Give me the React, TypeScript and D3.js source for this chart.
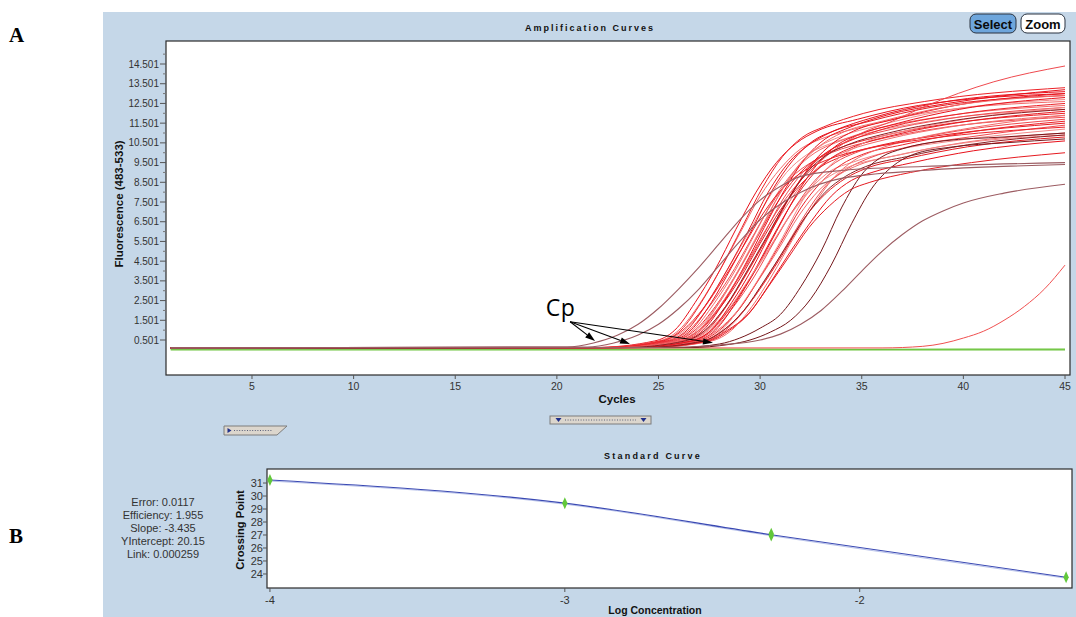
import React, { useEffect } from 'react';
import * as d3 from 'd3';

type Pt = [number, number];

// ---------- Amplification curves data (cycle, fluorescence) ----------
const cycleTicks = [5, 10, 15, 20, 25, 30, 35, 40, 45];
const fluorTicks = [0.501, 1.501, 2.501, 3.501, 4.501, 5.501, 6.501, 7.501, 8.501, 9.501, 10.501, 11.501, 12.501, 13.501, 14.501];
const fluorTickLabels = ['0.501', '1.501', '2.501', '3.501', '4.501', '5.501', '6.501', '7.501', '8.501', '9.501', '10.501', '11.501', '12.501', '13.501', '14.501'];

const redCurves: Pt[][] = [
  [[1,0.1],[21.8,0.12],[24.8,0.45],[25.8,1.0],[26.8,2.4],[27.8,4.1],[28.8,6.1],[29.8,8.0],[30.8,9.5],[31.8,10.5],[32.8,11.1],[34.8,11.7],[37.8,12.4],[45,13.0]],
  [[1,0.1],[22,0.12],[25,0.45],[26,1.0],[27,2.3],[28,4.0],[29,5.9],[30,7.8],[31,9.2],[32,10.2],[33,10.7],[35,11.3],[38,12.0],[45,12.6]],
  [[1,0.1],[22.1,0.12],[25.1,0.45],[26.1,1.0],[27.1,2.4],[28.1,4.2],[29.1,6.2],[30.1,8.2],[31.1,9.8],[32.1,10.8],[33.1,11.3],[35.1,12.0],[38.1,12.6],[45,13.3]],
  [[1,0.1],[22.3,0.12],[25.3,0.45],[26.3,1.0],[27.3,2.2],[28.3,3.9],[29.3,5.7],[30.3,7.5],[31.3,9.0],[32.3,9.9],[33.3,10.4],[35.3,11.0],[38.3,11.6],[45,12.2]],
  [[1,0.1],[22.4,0.12],[25.4,0.45],[26.4,1.0],[27.4,2.4],[28.4,4.1],[29.4,6.0],[30.4,8.0],[31.4,9.5],[32.4,10.4],[33.4,11.0],[35.4,11.6],[38.4,12.3],[45,12.9]],
  [[1,0.1],[22.5,0.12],[25.5,0.45],[26.5,1.0],[27.5,2.2],[28.5,3.7],[29.5,5.5],[30.5,7.3],[31.5,8.7],[32.5,9.5],[33.5,10.0],[35.5,10.6],[38.5,11.2],[45,11.8]],
  [[1,0.1],[22.6,0.12],[25.6,0.45],[26.6,1.0],[27.6,2.4],[28.6,4.2],[29.6,6.1],[30.6,8.1],[31.6,9.6],[32.6,10.6],[33.6,11.1],[35.6,11.8],[38.6,12.5],[45,13.1]],
  [[1,0.1],[22.7,0.12],[25.7,0.45],[26.7,1.0],[27.7,2.3],[28.7,3.9],[29.7,5.8],[30.7,7.7],[31.7,9.1],[32.7,10.0],[33.7,10.5],[35.7,11.2],[38.7,11.8],[45,12.4]],
  [[1,0.1],[22.8,0.12],[25.8,0.45],[26.8,1.0],[27.8,2.2],[28.8,3.8],[29.8,5.6],[30.8,7.4],[31.8,8.8],[32.8,9.7],[33.8,10.2],[35.8,10.8],[38.8,11.4],[45,12.0]],
  [[1,0.1],[22.9,0.12],[25.9,0.45],[26.9,1.0],[27.9,2.3],[28.9,4.0],[29.9,5.9],[30.9,7.8],[31.9,9.3],[32.9,10.3],[33.9,10.8],[35.9,11.4],[38.9,12.1],[45,12.7]],
  [[1,0.1],[23,0.12],[26,0.45],[27,1.0],[28,2.1],[29,3.6],[30,5.4],[31,7.1],[32,8.4],[33,9.3],[34,9.8],[36,10.4],[39,10.9],[45,11.5]],
  [[1,0.1],[23.1,0.12],[26.1,0.45],[27.1,1.0],[28.1,2.3],[29.1,3.9],[30.1,5.7],[31.1,7.6],[32.1,9.0],[33.1,9.9],[34.1,10.5],[36.1,11.1],[39.1,11.7],[45,12.3]],
  [[1,0.1],[23.2,0.12],[26.2,0.45],[27.2,1.0],[28.2,2.4],[29.2,4.2],[30.2,6.2],[31.2,8.1],[32.2,9.7],[33.2,10.7],[34.2,11.2],[36.2,11.9],[39.2,12.5],[45,13.2]],
  [[1,0.1],[23.3,0.12],[26.3,0.45],[27.3,1.0],[28.3,2.2],[29.3,3.8],[30.3,5.6],[31.3,7.3],[32.3,8.7],[33.3,9.6],[34.3,10.1],[36.3,10.7],[39.3,11.3],[45,11.9]],
  [[1,0.1],[23.4,0.12],[26.4,0.45],[27.4,1.0],[28.4,2.3],[29.4,4.0],[30.4,5.8],[31.4,7.7],[32.4,9.2],[33.4,10.1],[34.4,10.6],[36.4,11.3],[39.4,11.9],[45,12.5]],
  [[1,0.1],[23.5,0.12],[26.5,0.45],[27.5,1.0],[28.5,2.1],[29.5,3.6],[30.5,5.2],[31.5,6.9],[32.5,8.2],[33.5,9.1],[34.5,9.5],[36.5,10.1],[39.5,10.6],[45,11.2]],
  [[1,0.1],[23.6,0.12],[26.6,0.45],[27.6,1.0],[28.6,2.2],[29.6,3.8],[30.6,5.7],[31.6,7.5],[32.6,8.9],[33.6,9.8],[34.6,10.3],[36.6,10.9],[39.6,11.5],[45,12.1]],
  [[1,0.1],[23.7,0.12],[26.7,0.45],[27.7,1.0],[28.7,2.2],[29.7,3.7],[30.7,5.5],[31.7,7.2],[32.7,8.6],[33.7,9.5],[34.7,10.0],[36.7,10.5],[39.7,11.1],[45,11.7]],
  [[1,0.1],[23.8,0.12],[26.8,0.45],[27.8,1.0],[28.8,2.4],[29.8,4.1],[30.8,6.0],[31.8,7.9],[32.8,9.4],[33.8,10.4],[34.8,10.9],[36.8,11.5],[39.8,12.2],[45,12.8]],
  [[1,0.1],[23.9,0.12],[26.9,0.45],[27.9,1.0],[28.9,2.0],[29.9,3.5],[30.9,5.1],[31.9,6.8],[32.9,8.1],[33.9,8.9],[34.9,9.4],[36.9,9.9],[39.9,10.5],[45,11.0]],
  [[1,0.1],[24,0.12],[27,0.45],[28,1.0],[29,2.1],[30,3.7],[31,5.4],[32,7.2],[33,8.5],[34,9.4],[35,9.9],[37,10.4],[40,11.0],[45,11.6]],
  [[1,0.1],[24.1,0.12],[27.1,0.45],[28.1,1.0],[29.1,2.3],[30.1,3.9],[31.1,5.7],[32.1,7.6],[33.1,9.0],[34.1,9.9],[35.1,10.5],[37.1,11.1],[40.1,11.7],[45,12.3]],
  [[1,0.1],[24.2,0.12],[27.2,0.45],[28.2,1.0],[29.2,2.0],[30.2,3.4],[31.2,5.0],[32.2,6.7],[33.2,7.9],[34.2,8.7],[35.2,9.2],[37.2,9.7],[40.2,10.3],[45,10.8]],
  [[1,0.1],[24.3,0.12],[27.3,0.45],[28.3,1.0],[29.3,2.1],[30.3,3.6],[31.3,5.3],[32.3,7.0],[33.3,8.4],[34.3,9.2],[35.3,9.7],[37.3,10.3],[40.3,10.8],[45,11.4]],
  [[1,0.1],[24.5,0.12],[27.5,0.45],[28.5,1.0],[29.5,1.9],[30.5,3.4],[31.5,5.0],[32.5,6.5],[33.5,7.8],[34.5,8.6],[35.5,9.0],[37.5,9.5],[40.5,10.1],[45,10.6]],
  [[1,0.1],[24.6,0.12],[27.6,0.45],[28.6,1.0],[29.6,2.2],[30.6,3.8],[31.6,5.6],[32.6,7.3],[33.6,8.7],[34.6,9.6],[35.6,10.1],[37.6,10.7],[40.6,11.3],[45,11.9]],
  [[1,0.1],[22.2,0.12],[25.2,0.45],[26.2,1.0],[27.2,2.1],[28.2,3.6],[29.2,5.3],[30.2,7.0],[31.2,8.3],[32.2,9.1],[33.2,9.6],[35.2,10.2],[38.2,10.7],[45,11.3]],
  [[1,0.1],[23.4,0.12],[26.4,0.45],[27.4,1.0],[28.4,2.0],[29.4,3.5],[30.4,5.1],[31.4,6.7],[32.4,8.0],[33.4,8.8],[34.4,9.3],[36.4,9.8],[39.4,10.4],[45,10.9]],
  [[1,0.1],[24.4,0.12],[27.4,0.45],[28.4,1.0],[29.4,1.8],[30.4,3.2],[31.4,4.7],[32.4,6.2],[33.4,7.3],[34.4,8.1],[35.4,8.5],[37.4,9.0],[40.4,9.5],[45,10.0]],
  [[1,0.1],[23,0.12],[26,0.45],[27,1.0],[28,2.2],[29,3.8],[30,5.6],[31,7.3],[32,8.6],[33,9.6],[34,10.4],[35,11.0],[36.5,11.6],[38,12.3],[41.5,13.6],[45,14.4]],
  [[1,0.1],[23.6,0.12],[26.6,0.45],[27.6,1.0],[28.6,2.4],[29.6,4.1],[30.6,6.1],[31.6,8.0],[32.6,9.5],[33.6,10.5],[34.6,11.1],[36.6,11.7],[39.6,12.4],[45,13.0]],
  [[1,0.1],[23,0.12],[26,0.45],[27,1.0],[28,2.4],[29,4.1],[30,6.0],[31,8.0],[32,9.5],[33,10.4],[34,11.0],[36,11.6],[39,12.3],[45,12.9]],
];

const darkBundleCurves: Pt[][] = [
  [[1,0.1],[24.2,0.12],[27.2,0.45],[28.2,1.0],[29.2,2.0],[30.2,3.5],[31.2,5.1],[32.2,6.7],[33.2,8.0],[34.2,8.8],[35.2,9.3],[37.2,9.8],[40.2,10.4],[45,10.9]],
  [[1,0.1],[23.3,0.12],[26.3,0.45],[27.3,1.0],[28.3,2.2],[29.3,3.9],[30.3,5.7],[31.3,7.5],[32.3,9.0],[33.3,9.9],[34.3,10.4],[36.3,11.0],[39.3,11.6],[45,12.2]],
];

const steepDarkCurves: Pt[][] = [
  [[1,0.1],[26,0.12],[28,0.3],[29,0.6],[30,1.1],[31,1.8],[32,3.2],[33,5.0],[34,7.2],[35,8.9],[36,9.8],[37,10.2],[39,10.6],[42,10.8],[45,11.0]],
  [[1,0.1],[26.5,0.12],[28.5,0.28],[29.5,0.5],[30.5,0.9],[31.5,1.5],[32.5,2.6],[33.5,4.3],[34.5,6.4],[35.5,8.2],[36.5,9.3],[37.5,9.9],[39.5,10.3],[42,10.5],[45,10.7]],
];

const brownCurves: Pt[][] = [
  [[1,0.1],[20.5,0.15],[21.8,0.35],[23,0.75],[24,1.3],[25,2.1],[26,3.1],[27,4.2],[28,5.4],[29,6.6],[30,7.6],[31,8.3],[32,8.8],[34,9.1],[38,9.3],[45,9.5]],
  [[1,0.1],[21.5,0.15],[22.8,0.35],[24,0.75],[25,1.3],[26,2.1],[27,3.1],[28,4.3],[29,5.5],[30,6.6],[31,7.4],[32,8.0],[34,8.7],[38,9.1],[45,9.4]],
  [[1,0.1],[25,0.12],[28,0.25],[30,0.5],[31,0.8],[32,1.3],[33,2.0],[34,2.95],[35,4.0],[36,5.0],[37,5.85],[38,6.55],[39,7.05],[40,7.45],[42,7.95],[45,8.4]],
];

const lateRedCurve: Pt[] = [[1,0.1],[36,0.1],[38,0.18],[39,0.33],[40,0.6],[41,0.95],[42,1.5],[43,2.2],[44,3.1],[45,4.3]];

const greenCurves: Pt[][] = [
  [[1,0.0],[10,0.0],[20,0.0],[30,0.0],[40,0.0],[45,0.0]],
  [[1,0.04],[12,0.05],[25,0.04],[35,0.03],[45,0.04]],
];

const cpOrigin: Pt = [20.65, 1.43];
const cpTips: Pt[] = [[21.88, 0.45], [23.6, 0.30], [27.68, 0.36]];
const cpLabelAt: Pt = [19.45, 1.72];

// ---------- Standard curve data ----------
const logConc = [-4, -3, -2.3, -2.3, -1.3];
const crossingPoints = [31.23, 29.45, 26.95, 27.1, 23.75];
const fitLogConc = [-4, -3, -2.3, -1.3];
const fitCrossing = [31.23, 29.45, 27.02, 23.75];
const logTicks = [-4, -3, -2];
const cpTicks = [24, 25, 26, 27, 28, 29, 30, 31];
const statsLines = ['Error: 0.0117', 'Efficiency: 1.955', 'Slope: -3.435', 'YIntercept: 20.15', 'Link: 0.000259'];

// ---------- styles ----------
const redPalette = ['#e8111b', '#f26a6a', '#ec2228', '#f48888', '#e51a20', '#ef4a4f'];
const SANS = '"Liberation Sans", Arial, sans-serif';

export default function App() {
  useEffect(() => {
    document.body.style.margin = '0';
  }, []);

  const x = d3.scaleLinear().domain([0.769, 45.246]).range([166, 1070]);
  const y = d3.scaleLinear().domain([-1.274, 15.668]).range([375, 41]);
  const line = d3.line<Pt>().x(d => x(d[0])).y(d => y(d[1])).curve(d3.curveMonotoneX);

  const bx = d3.scaleLinear().domain([-4.01, -1.28]).range([267, 1072]);
  const by = d3.scaleLinear().domain([22.92, 32.08]).range([588, 469]);
  const fitPts: Pt[] = fitLogConc.map((c, i) => [c, fitCrossing[i]]);
  const fitLine = d3.line<Pt>().x(d => bx(d[0])).y(d => by(d[1])).curve(d3.curveMonotoneX);
  const diamond = d3.symbol().type(d3.symbolDiamond).size(34)() || '';

  const ox = x(cpOrigin[0]);
  const oy = y(cpOrigin[1]);
  const arrows = cpTips.map(t => {
    const tx = x(t[0]);
    const ty = y(t[1]);
    const ang = Math.atan2(ty - oy, tx - ox);
    const L = 10, Wd = 3.2;
    const bxp = tx - L * Math.cos(ang);
    const byp = ty - L * Math.sin(ang);
    const p1 = [bxp + Wd * Math.sin(ang), byp - Wd * Math.cos(ang)];
    const p2 = [bxp - Wd * Math.sin(ang), byp + Wd * Math.cos(ang)];
    return { tx, ty, bxp, byp, head: `${tx},${ty} ${p1[0]},${p1[1]} ${p2[0]},${p2[1]}` };
  });

  return (
    <svg width={1076} height={617} style={{ position: 'absolute', left: 0, top: 0, display: 'block' }} fontFamily={SANS}>
      <rect x={0} y={0} width={1076} height={617} fill="#ffffff" />
      <rect x={103} y={12} width={973} height={605} fill="#c5d7e8" />

      <text x={9} y={42} fontFamily='"Liberation Serif", "Times New Roman", serif' fontWeight="bold" fontSize={21}>A</text>
      <text x={9} y={543} fontFamily='"Liberation Serif", "Times New Roman", serif' fontWeight="bold" fontSize={21}>B</text>

      {/* ---- Amplification curves ---- */}
      <text x={590} y={30.5} textAnchor="middle" fontWeight="bold" fontSize={9} letterSpacing={2} fill="#111">Amplification Curves</text>

      <rect x={970} y={14} width={46} height={19} rx={6} fill="#6ea6dc" stroke="#2a3340" strokeWidth={1} />
      <text x={993} y={28.5} textAnchor="middle" fontWeight="bold" fontSize={13} fill="#0a0a0a">Select</text>
      <rect x={1021} y={14} width={44} height={19} rx={6} fill="#ffffff" stroke="#2a3340" strokeWidth={1} />
      <text x={1043} y={28.5} textAnchor="middle" fontWeight="bold" fontSize={13} fill="#0a0a0a">Zoom</text>

      <defs>
        <clipPath id="plotClip">
          <rect x={166} y={41} width={904} height={334} />
        </clipPath>
      </defs>
      <rect x={166} y={41} width={904} height={334} fill="#ffffff" />

      <g clipPath="url(#plotClip)" fill="none">
        {greenCurves.map((c, i) => (
          <path key={'g' + i} d={line(c) || ''} stroke="#6cc43c" strokeWidth={1.2} />
        ))}
        {redCurves.map((c, i) => (
          <path key={'r' + i} d={line(c) || ''} stroke={redPalette[i % redPalette.length]} strokeWidth={1} />
        ))}
        <path d={line(lateRedCurve) || ''} stroke="#f05050" strokeWidth={1} />
        {darkBundleCurves.map((c, i) => (
          <path key={'db' + i} d={line(c) || ''} stroke="#8c1e22" strokeWidth={1} />
        ))}
        {steepDarkCurves.map((c, i) => (
          <path key={'sd' + i} d={line(c) || ''} stroke="#74161a" strokeWidth={1} />
        ))}
        {brownCurves.map((c, i) => (
          <path key={'b' + i} d={line(c) || ''} stroke="#9c5c62" strokeWidth={1.1} />
        ))}
      </g>

      {/* Cp annotation */}
      <text x={x(cpLabelAt[0])} y={y(cpLabelAt[1])} fontFamily='"Open Sans", "Noto Sans", sans-serif' fontSize={23} letterSpacing={0.5}>Cp</text>
      {arrows.map((a, i) => (
        <g key={'a' + i}>
          <line x1={ox} y1={oy} x2={a.bxp} y2={a.byp} stroke="#000" strokeWidth={1.1} />
          <polygon points={a.head} fill="#000" />
        </g>
      ))}

      <rect x={166} y={41} width={904} height={334} fill="none" stroke="#2b2b2b" strokeWidth={1.2} />

      {/* y axis */}
      {fluorTicks.map((t, i) => (
        <g key={'yt' + i}>
          <line x1={160} x2={166} y1={y(t)} y2={y(t)} stroke="#555" />
          <text x={159} y={y(t) + 3.5} textAnchor="end" fontSize={10} fill="#333">{fluorTickLabels[i]}</text>
        </g>
      ))}
      {fluorTicks.map((t, i) => (
        <line key={'ym' + i} x1={163} x2={166} y1={y(t + 0.5)} y2={y(t + 0.5)} stroke="#777" />
      ))}
      <text transform={`translate(122.5,204) rotate(-90)`} textAnchor="middle" fontWeight="bold" fontSize={11.5} fill="#111">Fluorescence (483-533)</text>

      {/* x axis */}
      {cycleTicks.map(t => (
        <g key={'xt' + t}>
          <line x1={x(t)} x2={x(t)} y1={375} y2={379} stroke="#555" />
          <text x={x(t)} y={390} textAnchor="middle" fontSize={10.5} fill="#333">{t}</text>
        </g>
      ))}
      <text x={617} y={403} textAnchor="middle" fontWeight="bold" fontSize={11.5} fill="#111">Cycles</text>

      {/* sliders */}
      <polygon points="224,426 287,426 277,435 224,435" fill="#dcd6cd" stroke="#7d7d7d" strokeWidth={1} />
      <polygon points="227.5,428 231.5,430.5 227.5,433" fill="#1f2f8a" />
      <line x1={234} x2={273} y1={430.5} y2={430.5} stroke="#5a607a" strokeWidth={1} strokeDasharray="1,1.6" />
      <rect x={550} y={416} width={101} height={8} fill="#dcd6cd" stroke="#7d7d7d" strokeWidth={1} />
      <polygon points="555.5,418 561.5,418 558.5,422" fill="#1f2f8a" />
      <polygon points="640.5,418 646.5,418 643.5,422" fill="#1f2f8a" />
      <line x1={565} x2={636} y1={420} y2={420} stroke="#5a607a" strokeWidth={1} strokeDasharray="1,1.6" />

      {/* ---- Standard curve ---- */}
      <text x={653} y={458.5} textAnchor="middle" fontWeight="bold" fontSize={9} letterSpacing={2.2} fill="#111">Standard Curve</text>
      <rect x={267} y={469} width={805} height={119} fill="#ffffff" stroke="#2b2b2b" strokeWidth={1.2} />
      <path d={fitLine(fitPts) || ''} fill="none" stroke="#b8c2ea" strokeWidth={1} transform="translate(0,1)" />
      <path d={fitLine(fitPts) || ''} fill="none" stroke="#3a49b3" strokeWidth={1.1} />
      {logConc.map((c, i) => (
        <path key={'pt' + i} d={diamond} transform={`translate(${bx(c)},${by(crossingPoints[i])}) scale(0.85,1.1)`} fill="#62c83a" />
      ))}

      {cpTicks.map(t => (
        <g key={'byt' + t}>
          <line x1={263} x2={267} y1={by(t)} y2={by(t)} stroke="#555" />
          <text x={263} y={by(t) + 4} textAnchor="end" fontSize={11} fill="#333">{t}</text>
        </g>
      ))}
      <text transform={`translate(244,530) rotate(-90)`} textAnchor="middle" fontWeight="bold" fontSize={11.2} fill="#111">Crossing Point</text>

      {logTicks.map(t => (
        <g key={'bxt' + t}>
          <line x1={bx(t)} x2={bx(t)} y1={588} y2={592} stroke="#555" />
          <text x={bx(t)} y={604} textAnchor="middle" fontSize={11} fill="#333">{String(t)}</text>
        </g>
      ))}
      <text x={655} y={613.5} textAnchor="middle" fontWeight="bold" fontSize={10.5} fill="#111">Log Concentration</text>

      {statsLines.map((s, i) => (
        <text key={'s' + i} x={163} y={506 + i * 13} textAnchor="middle" fontSize={11} fill="#333">{s}</text>
      ))}
    </svg>
  );
}
